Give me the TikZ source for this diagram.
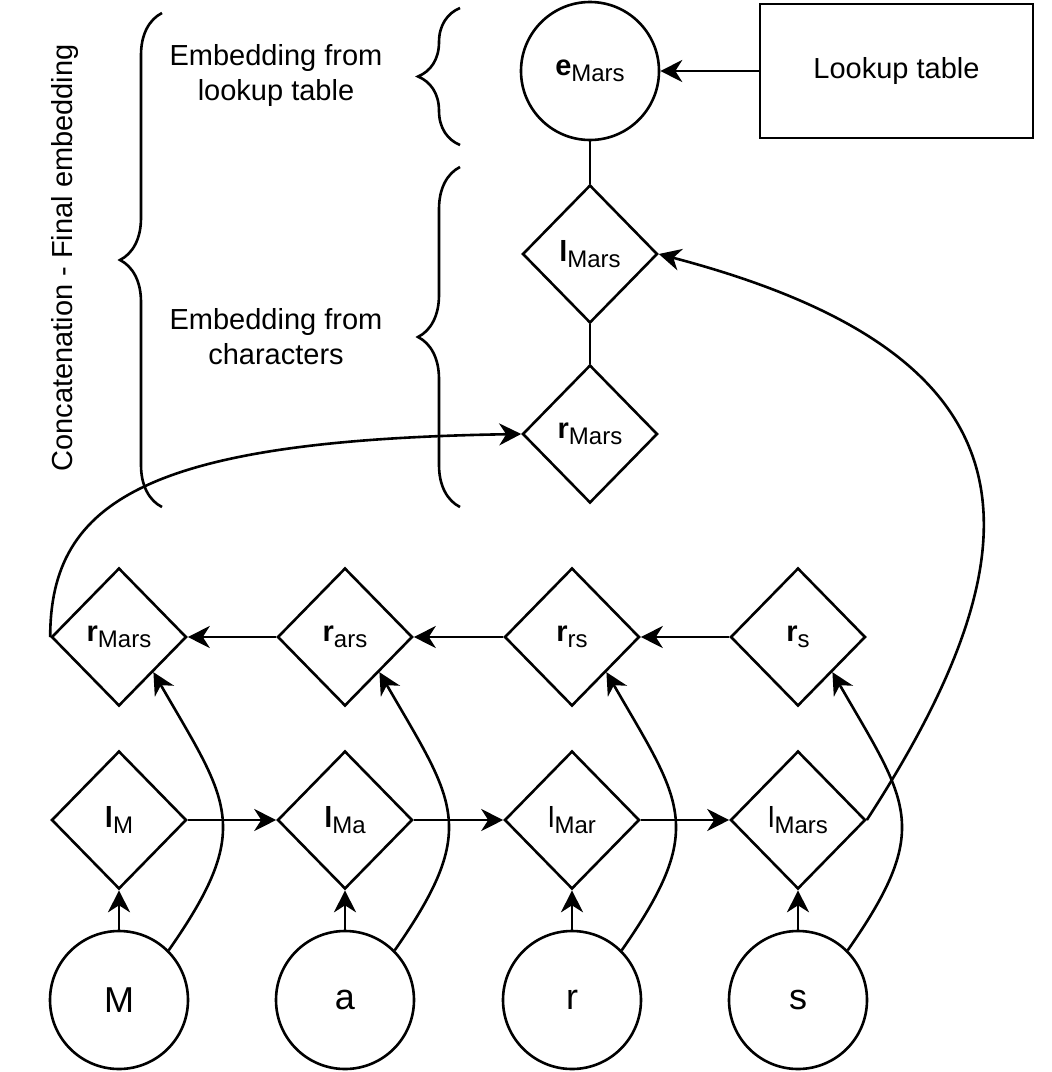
\documentclass[tikz,border=0pt]{standalone}
\usepackage{fontspec}
\setmainfont{Liberation Sans}
\usetikzlibrary{shapes.geometric,arrows.meta,decorations.pathreplacing}

\newcommand{\lsub}[1]{\raisebox{-0.4ex}{\fontsize{12}{12}\selectfont #1}}

\tikzset{
  arr/.style={-{Stealth[length=11pt,width=11pt,inset=3.5pt]}},
  charnode/.style={circle,draw,minimum size=69pt,inner sep=0pt},
  cellnode/.style={diamond,draw,minimum width=67.5pt,minimum height=69pt,inner sep=0pt},
  bracepath/.style={decorate,decoration={brace,amplitude=21pt}},
}

\begin{document}
\begin{tikzpicture}[x=0.5pt,y=-0.5pt,line width=1.3pt,font=\fontsize{14.5}{17.5}\selectfont]
    \useasboundingbox (0,0) rectangle (1052,1072);

%   characters, forward cells and backward cells
    \foreach \i/\x/\ch/\lt/\rt in {1/119/M/\textbf{l}\lsub{M}/\textbf{r}\lsub{Mars},
                                   2/345/a/\textbf{l}\lsub{Ma}/\textbf{r}\lsub{ars},
                                   3/572/r/l\lsub{Mar}/\textbf{r}\lsub{rs},
                                   4/798/s/l\lsub{Mars}/\textbf{r}\lsub{s}} {
        \node[charnode,font=\fontsize{18}{20}\selectfont] (c\i) at (\x,1000) {\ch};
        \node[cellnode] (l\i) at (\x,820) {\lt};
        \node[cellnode] (r\i) at (\x,637) {\rt};
        \draw[arr] (c\i.north) -- (l\i.south);
        \draw[arr] (c\i.45) .. controls +(86,-123) and +(75,130) .. (r\i.south east);
    }

    \foreach \i/\j in {1/2,2/3,3/4} {
        \draw[arr] (l\i.east) -- (l\j.west);
        \draw[arr] (r\j.west) -- (r\i.east);
    }

%   word level
    \node[charnode] (eMars) at (590,71) {\textbf{e}\lsub{Mars}};
    \node[cellnode] (lMars) at (590,254) {\textbf{l}\lsub{Mars}};
    \node[cellnode] (rMars) at (590,434) {\textbf{r}\lsub{Mars}};
    \node[draw,rectangle,minimum width=136.5pt,minimum height=67pt] (lookup) at (896.5,71) {Lookup table};

    \draw[arr] (lookup.west) -- (eMars.east);
    \draw (eMars.south) -- (lMars.north);
    \draw (lMars.south) -- (rMars.north);

    \draw[arr] (r1.west) .. controls +(0,-137) and +(-372,6) .. (rMars.west);
    \draw[arr] (l4.east) .. controls +(185,-285) and +(380,100) .. (lMars.east);

%   braces
    \draw[bracepath] (162,507) -- (162,13);
    \draw[bracepath] (460,145) -- (460,8);
    \draw[bracepath] (460,507) -- (460,167);

    \node[rotate=90] (concat) at (65,258) {Concatenation - Final embedding};
    \node[align=center] (fromtable) at (276,75) {Embedding from\\lookup table};
    \node[align=center] (fromchars) at (276,337) {Embedding from\\characters};

\end{tikzpicture}
\end{document}
